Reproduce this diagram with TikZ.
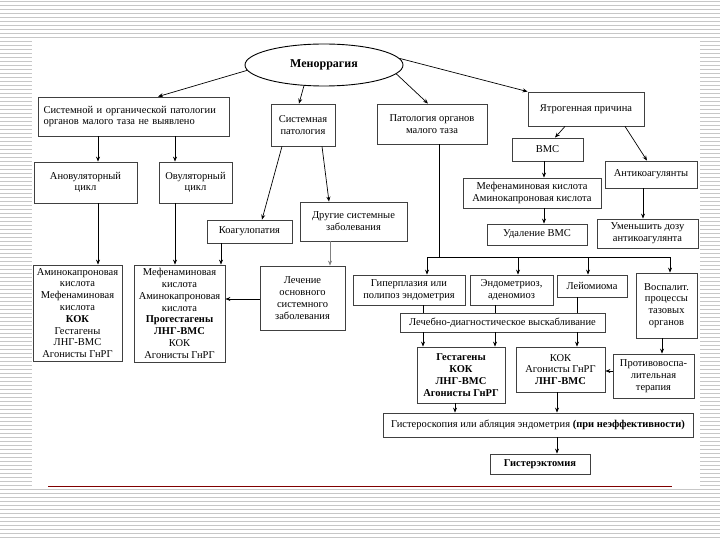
\documentclass[tikz,border=0pt]{standalone}
\usepackage{fontspec}
\setmainfont{Liberation Serif}
\usetikzlibrary{arrows.meta,shapes.geometric}
\begin{document}
\begin{tikzpicture}[x=1pt,y=-1pt,
 bx/.style={draw=black!75,line width=0.8pt,fill=white,inner sep=1pt,align=center,font=\fontsize{10.5}{11.8}\selectfont},
 bbx/.style={bx,font=\bfseries\fontsize{10.5}{11.8}\selectfont},
 arr/.style={-{Stealth[length=5pt,width=4pt]},line width=0.7pt,black},
 ln/.style={line width=0.7pt,black}]
\useasboundingbox (0,0) rectangle (720,540);
\foreach \k in {0,...,134} {\draw[black!22,line width=1pt] (0,{\k*4+1.5}) -- (720,{\k*4+1.5});}
\fill[white] (32,39) rectangle (700,488);
\draw[red!50!black,line width=1pt] (48,486) -- (672,486);

% nodes
\node[ellipse,draw=black,line width=0.9pt,minimum width=158,minimum height=42,inner sep=0pt,font=\bfseries\fontsize{12}{14}\selectfont] (men) at (324,65) {Меноррагия};
\node[bx,minimum width=191,minimum height=39,text width=180,align=left] (sysorg) at (133.5,116.5) {Системной и органической патологии\\органов малого таза не выявлено};
\node[bx,minimum width=64,minimum height=42] (syspat) at (303,125) {Системная\\патология};
\node[bx,minimum width=110,minimum height=40] (patorg) at (432,124) {Патология органов\\малого таза};
\node[bx,minimum width=116,minimum height=34] (iatro) at (586,109) {Ятрогенная причина};
\node[bx,minimum width=71,minimum height=23] (vms) at (547.5,149.5) {ВМС};
\node[bx,minimum width=92,minimum height=27] (antico) at (651,174.5) {Антикоагулянты};
\node[bx,minimum width=138,minimum height=30] (mefen) at (532,193) {Мефенаминовая кислота\\Аминокапроновая кислота};
\node[bx,minimum width=100,minimum height=21] (udal) at (537,234.5) {Удаление ВМС};
\node[bx,minimum width=101,minimum height=29] (umen) at (647.5,233.5) {Уменьшить дозу\\антикоагулянта};
\node[bx,minimum width=103,minimum height=41] (anov) at (85.5,182.5) {Ановуляторный\\цикл};
\node[bx,minimum width=73,minimum height=41] (ovul) at (195.5,182.5) {Овуляторный\\цикл};
\node[bx,minimum width=85,minimum height=23] (coag) at (249.5,231.5) {Коагулопатия};
\node[bx,minimum width=107,minimum height=39] (other) at (353.5,221.5) {Другие системные\\заболевания};
\node[bx,minimum width=89,minimum height=96] (listA) at (77.5,313) {Аминокапроновая\\кислота\\Мефенаминовая\\кислота\\\textbf{КОК}\\Гестагены\\ЛНГ-ВМС\\Агонисты ГнРГ};
\node[bx,minimum width=91,minimum height=97] (listB) at (179.5,313.5) {Мефенаминовая\\кислота\\Аминокапроновая\\кислота\\\textbf{Прогестагены}\\\textbf{ЛНГ-ВМС}\\КОК\\Агонисты ГнРГ};
\node[bx,minimum width=85,minimum height=64] (treat) at (302.5,298) {Лечение\\основного\\системного\\заболевания};
\node[bx,minimum width=112,minimum height=30] (hyper) at (409,290) {Гиперплазия или\\полипоз эндометрия};
\node[bx,minimum width=83,minimum height=30] (endo) at (511.5,290) {Эндометриоз,\\аденомиоз};
\node[bx,minimum width=70,minimum height=22] (leio) at (592,286) {Лейомиома};
\node[bx,minimum width=61,minimum height=65] (infl) at (666.5,305.5) {Воспалит.\\процессы\\тазовых\\органов};
\node[bx,minimum width=205,minimum height=19] (curet) at (502.5,322.5) {Лечебно-диагностическое выскабливание};
\node[bbx,minimum width=88,minimum height=56] (gest) at (461,375) {Гестагены\\КОК\\ЛНГ-ВМС\\Агонисты ГнРГ};
\node[bx,minimum width=89,minimum height=45] (kok) at (560.5,369.5) {КОК\\Агонисты ГнРГ\\\textbf{ЛНГ-ВМС}};
\node[bx,minimum width=81,minimum height=44] (antiinf) at (653.5,376) {Противовоспа-\\лительная\\терапия};
\node[bx,minimum width=310,minimum height=24] (hystero) at (538,425) {Гистероскопия или абляция эндометрия \textbf{(при неэффективности)}};
\node[bbx,minimum width=100,minimum height=20] (hyst) at (540,464) {Гистерэктомия};

% bus coordinates
\coordinate (busM) at (439,257);
\coordinate (busL) at (427,257);
\coordinate (bus2) at (518,257);
\coordinate (bus3) at (588,257);
\coordinate (busR) at (670,257);

% connectors
\draw[arr] (men.184) -- ([xshift=24.5]sysorg.north);
\draw[arr] (men.226) -- ([xshift=-4]syspat.north);
\draw[arr] (men.-7) -- ([xshift=-4]patorg.north);
\draw[arr] (men.5) -- (iatro.north west);

\draw[arr] ([xshift=-35.5]sysorg.south) -- ([xshift=12.5]anov.north);
\draw[arr] ([xshift=41.5]sysorg.south) -- ([xshift=-20.5]ovul.north);
\draw[arr] ([xshift=12.5]anov.south) -- ([xshift=20.5]listA.north);
\draw[arr] ([xshift=-20.5]ovul.south) -- ([xshift=-4.5]listB.north);
\draw[arr] ([xshift=-28.5]coag.south) -- ([xshift=41.5]listB.north);
\draw[arr] ([xshift=-21]syspat.south) -- ([xshift=12.5]coag.north);
\draw[arr] ([xshift=19]syspat.south) -- ([xshift=-24.5]other.north);
\draw[arr,black!50] ([xshift=-23.5]other.south) -- ([xshift=27.5]treat.north);
\draw[arr] ([yshift=-1]treat.west) -- ([yshift=-1]treat.west -| listB.east);

\draw[ln] ([xshift=7]patorg.south) -- (busM);
\draw[ln] (busL) -- (busR);
\draw[arr] (busL) -- (busL |- hyper.north);
\draw[arr] (bus2) -- (bus2 |- endo.north);
\draw[arr] (bus3) -- (bus3 |- leio.north);
\draw[arr] (busR) -- (busR |- infl.north);

\draw[ln] ([xshift=14]hyper.south) -- ([xshift=-79.5]curet.north);
\draw[arr] ([xshift=-79.5]curet.south) -- ([xshift=-38]gest.north);
\draw[ln] ([xshift=-16.5]endo.south) -- ([xshift=-7.5]curet.north);
\draw[arr] ([xshift=-7.5]curet.south) -- ([xshift=34]gest.north);
\draw[ln] ([xshift=-15]leio.south) -- ([xshift=74.5]curet.north);
\draw[arr] ([xshift=74.5]curet.south) -- ([xshift=16.5]kok.north);
\draw[arr] ([xshift=-4.5]infl.south) -- ([xshift=8.5]antiinf.north);
\draw[arr] ([yshift=5]antiinf.west) -- ([yshift=-1.5]kok.east);
\draw[arr] ([xshift=-6]gest.south) -- ([xshift=-83]hystero.north);
\draw[arr] ([xshift=-3.5]kok.south) -- ([xshift=19]hystero.north);
\draw[arr] ([xshift=19]hystero.south) -- ([xshift=17]hyst.north);

\draw[arr] ([xshift=-21]iatro.south) -- ([xshift=7.5]vms.north);
\draw[arr] ([xshift=39]iatro.south) -- ([xshift=-4]antico.north);
\draw[arr] ([xshift=-3.5]vms.south) -- ([xshift=12]mefen.north);
\draw[arr] ([xshift=12]mefen.south) -- ([xshift=7]udal.north);
\draw[arr] ([xshift=-8]antico.south) -- ([xshift=-4.5]umen.north);
\end{tikzpicture}
\end{document}
